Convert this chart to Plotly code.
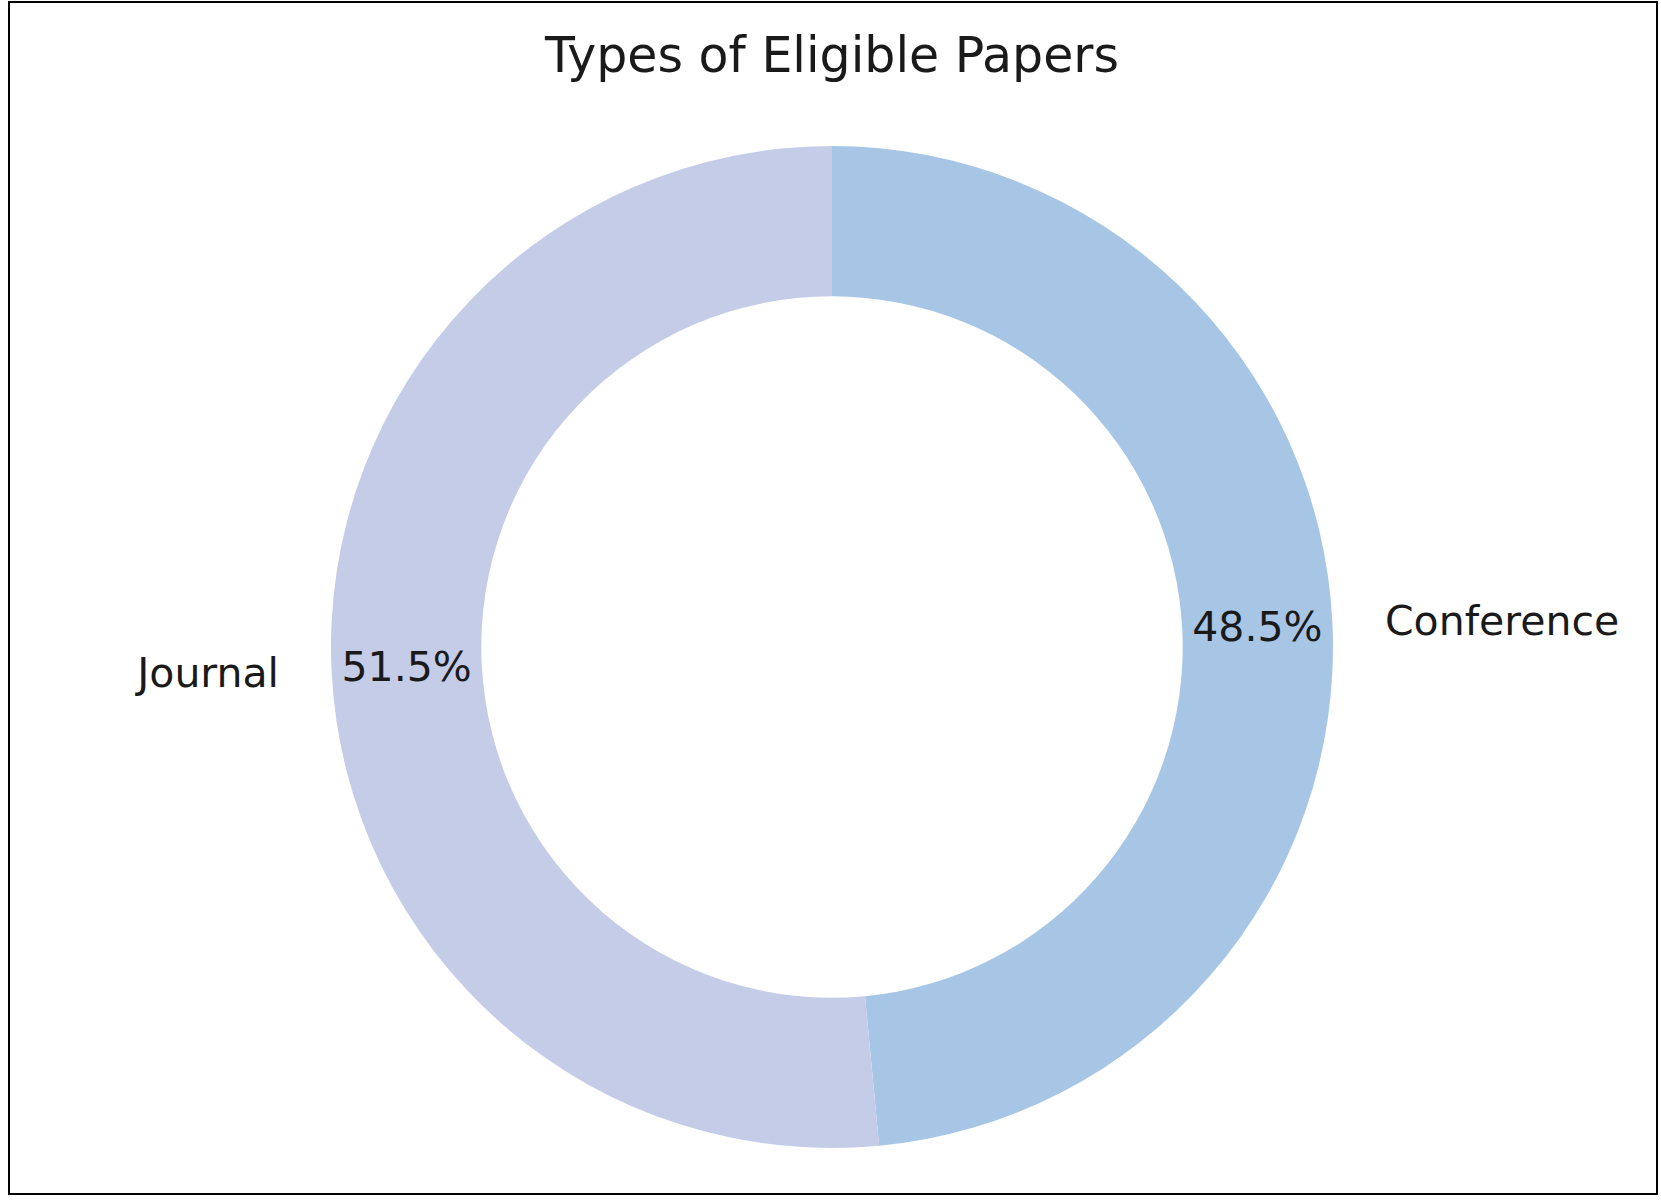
"""Donut chart: types of eligible papers."""

import plotly.graph_objects as go

# data (clockwise from 12 o'clock)
categories = ['Conference', 'Journal']
shares = [48.5, 51.5]
slice_colors = ['#A7C6E6', '#C5CCE8']

W, H = 1661, 1201
# donut geometry in pixels (centre, outer radius)
cx, cy, R = 832, 647, 501
label_scale = 1.081  # plotly adds its own small gap, so a touch under 1.1


def domain_for(radius):
    return dict(
        x=[(cx - radius) / W, (cx + radius) / W],
        y=[(H - cy - radius) / H, (H - cy + radius) / H],
    )


fig = go.Figure()

# main donut with percentages inside the ring
fig.add_trace(go.Pie(
    labels=categories,
    values=shares,
    hole=0.70,
    sort=False,
    direction='clockwise',
    rotation=0,
    marker=dict(colors=slice_colors, line=dict(width=0)),
    texttemplate='%{percent:.1%}',
    textposition='inside',
    insidetextorientation='horizontal',
    textfont=dict(family='DejaVu Sans', size=41, color='#1a1a1a'),
    domain=domain_for(R),
    showlegend=False,
    hoverinfo='label+percent',
))

# invisible, slightly larger pie used only to place the category names outside
fig.add_trace(go.Pie(
    labels=categories,
    values=shares,
    hole=0.99,
    sort=False,
    direction='clockwise',
    rotation=0,
    marker=dict(colors=['rgba(0,0,0,0)'] * len(categories), line=dict(width=0)),
    texttemplate='%{label}',
    textposition='outside',
    textfont=dict(family='DejaVu Sans', size=41, color='#1a1a1a'),
    domain=domain_for(R * label_scale),
    showlegend=False,
    hoverinfo='skip',
))

fig.update_layout(
    title=dict(
        text='Types of Eligible Papers',
        x=cx / W,
        xanchor='center',
        y=1 - 55 / H,
        yanchor='middle',
        yref='container',
        font=dict(family='DejaVu Sans', size=49, color='#1a1a1a'),
    ),
    width=W,
    height=H,
    margin=dict(l=0, r=0, t=0, b=0),
    paper_bgcolor='white',
    plot_bgcolor='white',
    shapes=[dict(
        type='rect', xref='paper', yref='paper',
        x0=9 / W, x1=1657 / W, y0=1 - 1194 / H, y1=1 - 2 / H,
        line=dict(color='black', width=2),
    )],
)

fig.write_html(
    "out.html",
    config={'displayModeBar': False},
    post_script="document.body.style.margin='0';document.body.style.overflow='hidden';",
)
